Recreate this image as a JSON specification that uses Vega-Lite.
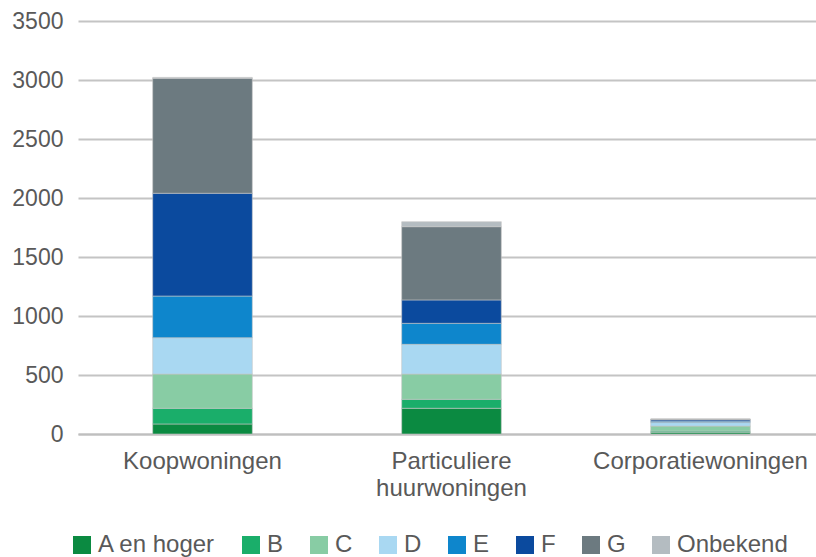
{
  "$schema": "https://vega.github.io/schema/vega-lite/v6.json",
  "autosize": {"type": "none"},
  "width": 747,
  "height": 413,
  "padding": {"left": 78, "top": 21, "right": 0, "bottom": 123},
  "background": "white",
  "config": {
    "view": {"stroke": null},
    "font": "Liberation Sans"
  },
  "data": {
    "values": [
      {"woning": "Koopwoningen", "label": "A en hoger", "rank": 1, "aantal": 85},
      {"woning": "Koopwoningen", "label": "B", "rank": 2, "aantal": 133},
      {"woning": "Koopwoningen", "label": "C", "rank": 3, "aantal": 290},
      {"woning": "Koopwoningen", "label": "D", "rank": 4, "aantal": 308},
      {"woning": "Koopwoningen", "label": "E", "rank": 5, "aantal": 353},
      {"woning": "Koopwoningen", "label": "F", "rank": 6, "aantal": 871},
      {"woning": "Koopwoningen", "label": "G", "rank": 7, "aantal": 974},
      {"woning": "Koopwoningen", "label": "Onbekend", "rank": 8, "aantal": 8},
      {"woning": "Particuliere huurwoningen", "label": "A en hoger", "rank": 1, "aantal": 218},
      {"woning": "Particuliere huurwoningen", "label": "B", "rank": 2, "aantal": 76},
      {"woning": "Particuliere huurwoningen", "label": "C", "rank": 3, "aantal": 214},
      {"woning": "Particuliere huurwoningen", "label": "D", "rank": 4, "aantal": 252},
      {"woning": "Particuliere huurwoningen", "label": "E", "rank": 5, "aantal": 178},
      {"woning": "Particuliere huurwoningen", "label": "F", "rank": 6, "aantal": 198},
      {"woning": "Particuliere huurwoningen", "label": "G", "rank": 7, "aantal": 621},
      {"woning": "Particuliere huurwoningen", "label": "Onbekend", "rank": 8, "aantal": 42},
      {"woning": "Corporatiewoningen", "label": "A en hoger", "rank": 1, "aantal": 15},
      {"woning": "Corporatiewoningen", "label": "B", "rank": 2, "aantal": 10},
      {"woning": "Corporatiewoningen", "label": "C", "rank": 3, "aantal": 42},
      {"woning": "Corporatiewoningen", "label": "D", "rank": 4, "aantal": 30},
      {"woning": "Corporatiewoningen", "label": "E", "rank": 5, "aantal": 12},
      {"woning": "Corporatiewoningen", "label": "F", "rank": 6, "aantal": 12},
      {"woning": "Corporatiewoningen", "label": "G", "rank": 7, "aantal": 6},
      {"woning": "Corporatiewoningen", "label": "Onbekend", "rank": 8, "aantal": 0}
    ]
  },
  "mark": {"type": "bar", "stroke": "#c4c4c4", "strokeWidth": 0.6},
  "encoding": {
    "x": {
      "field": "woning",
      "type": "nominal",
      "sort": ["Koopwoningen", "Particuliere huurwoningen", "Corporatiewoningen"],
      "scale": {"paddingInner": 0.6, "paddingOuter": 0.3},
      "axis": {
        "title": null,
        "labelAngle": 0,
        "labelFontSize": 24,
        "labelColor": "#595959",
        "labelPadding": 15,
        "labelLineHeight": 27,
        "labelBaseline": "top",
        "labelLimit": 0,
        "labelOverlap": false,
        "labelExpr": "datum.label == 'Particuliere huurwoningen' ? ['Particuliere', 'huurwoningen'] : datum.label",
        "ticks": false,
        "domainColor": "#bfbfbf",
        "domainWidth": 2
      }
    },
    "y": {
      "field": "aantal",
      "type": "quantitative",
      "stack": "zero",
      "scale": {"domain": [0, 3500], "nice": false},
      "axis": {
        "title": null,
        "values": [0, 500, 1000, 1500, 2000, 2500, 3000, 3500],
        "format": "d",
        "labelFontSize": 23,
        "labelColor": "#595959",
        "labelPadding": 15,
        "ticks": false,
        "domain": false,
        "gridColor": "#c4c4c4",
        "gridWidth": 2
      }
    },
    "order": {"field": "rank", "type": "quantitative", "sort": "ascending"},
    "color": {
      "field": "label",
      "type": "nominal",
      "sort": ["A en hoger", "B", "C", "D", "E", "F", "G", "Onbekend"],
      "scale": {
        "domain": ["A en hoger", "B", "C", "D", "E", "F", "G", "Onbekend"],
        "range": ["#0b8a41", "#1aae6a", "#88cca4", "#a9d8f2", "#0e86cc", "#0b4a9e", "#6c7a80", "#b4bcc1"]
      },
      "legend": {
        "title": null,
        "orient": "none",
        "direction": "horizontal",
        "legendX": -8,
        "legendY": 512,
        "symbolType": "square",
        "symbolSize": 324,
        "symbolStrokeWidth": 0,
        "labelFontSize": 24,
        "labelColor": "#595959",
        "labelOffset": 4,
        "labelLimit": 0,
        "columnPadding": 23,
        "columns": 8
      }
    }
  }
}
